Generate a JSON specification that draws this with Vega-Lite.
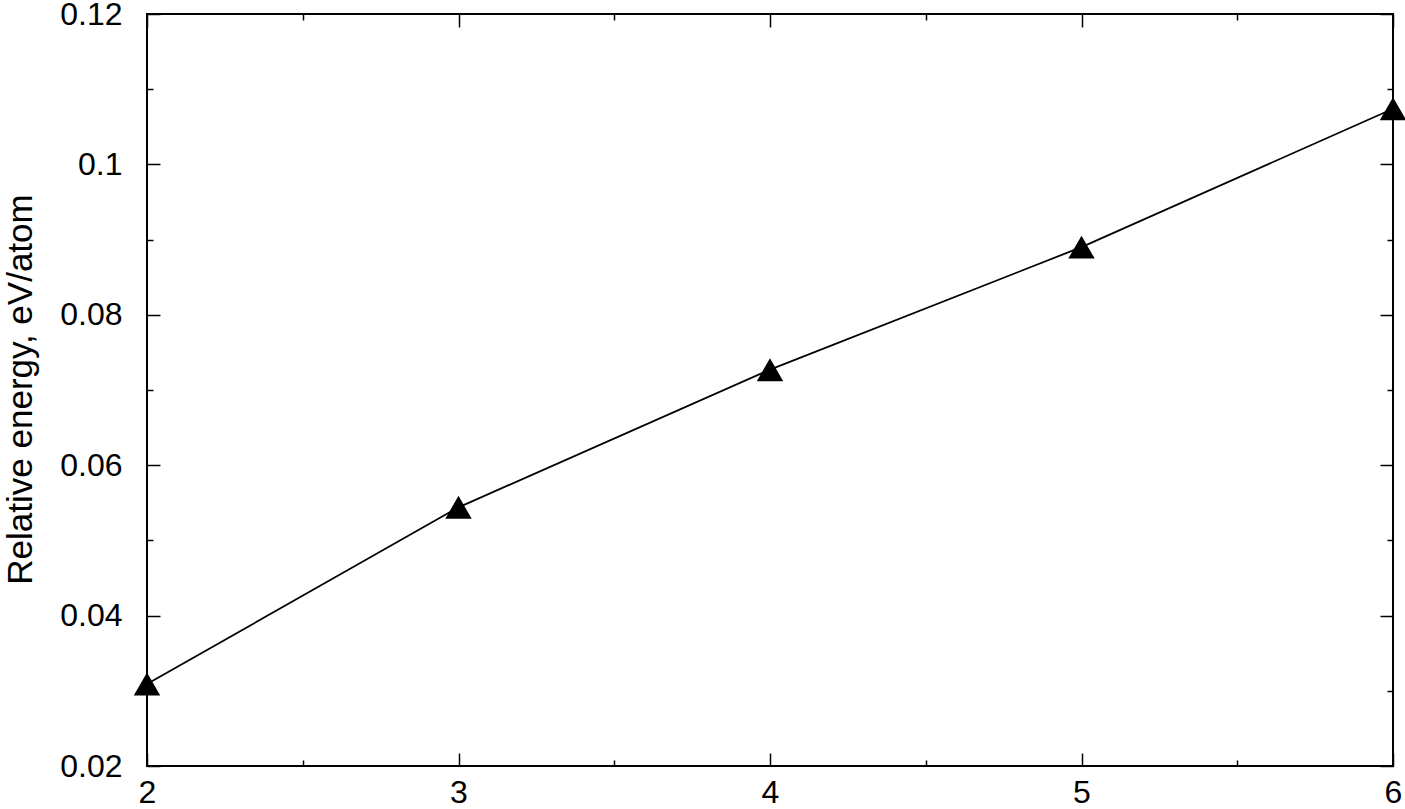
{
  "$schema": "https://vega.github.io/schema/vega-lite/v6.json",
  "width": 1246,
  "height": 752,
  "autosize": {"type": "none"},
  "padding": {"left": 147, "top": 14, "right": 12, "bottom": 43},
  "background": "white",
  "config": {
    "view": {"stroke": "black", "strokeWidth": 2},
    "axis": {
      "grid": false,
      "domain": false,
      "labelFont": "Liberation Sans",
      "labelFontSize": 32,
      "labelColor": "black",
      "tickColor": "black",
      "tickWidth": 1.5,
      "titleFont": "Liberation Sans",
      "titleFontWeight": "normal",
      "titleColor": "black"
    }
  },
  "data": {
    "values": [
      {"n": 2, "energy": 0.0309},
      {"n": 3, "energy": 0.0544},
      {"n": 4, "energy": 0.0727},
      {"n": 5, "energy": 0.0890},
      {"n": 6, "energy": 0.1074}
    ]
  },
  "resolve": {"axis": {"x": "independent", "y": "independent"}},
  "layer": [
    {
      "mark": {"type": "line", "color": "black", "strokeWidth": 1.8},
      "encoding": {
        "x": {
          "field": "n", "type": "quantitative",
          "scale": {"domain": [2, 6], "nice": false, "zero": false},
          "axis": {
            "orient": "bottom", "values": [2, 3, 4, 5, 6], "format": "d",
            "tickSize": -13, "labelPadding": 49, "labelBaseline": "alphabetic",
            "labelFlush": false, "title": null
          }
        },
        "y": {
          "field": "energy", "type": "quantitative",
          "scale": {"domain": [0.02, 0.12], "nice": false, "zero": false},
          "axis": {
            "orient": "left", "values": [0.02, 0.04, 0.06, 0.08, 0.1, 0.12], "format": ".2~f",
            "tickSize": -13, "labelPadding": 38, "labelFlush": false,
            "title": "Relative energy, eV/atom", "titleFontSize": 35,
            "titleAngle": -90, "titleBaseline": "alphabetic", "titleAlign": "center",
            "titleX": -116, "titleY": 375
          }
        }
      }
    },
    {
      "mark": {"type": "point", "shape": "triangle-up", "filled": true, "color": "black", "opacity": 1, "size": 700},
      "encoding": {
        "x": {
          "field": "n", "type": "quantitative",
          "axis": {"orient": "top", "values": [2, 3, 4, 5, 6], "labels": false, "tickSize": -13, "title": null}
        },
        "y": {
          "field": "energy", "type": "quantitative",
          "axis": {"orient": "right", "values": [0.02, 0.04, 0.06, 0.08, 0.1, 0.12], "labels": false, "tickSize": -13, "title": null}
        }
      }
    },
    {
      "mark": {"type": "point", "opacity": 0},
      "encoding": {
        "x": {
          "field": "n", "type": "quantitative",
          "axis": {"orient": "bottom", "values": [2.5, 3.5, 4.5, 5.5], "labels": false, "tickSize": -6, "title": null}
        },
        "y": {
          "field": "energy", "type": "quantitative",
          "axis": {"orient": "left", "values": [0.03, 0.05, 0.07, 0.09, 0.11], "labels": false, "tickSize": -6, "title": null}
        }
      }
    },
    {
      "mark": {"type": "point", "opacity": 0},
      "encoding": {
        "x": {
          "field": "n", "type": "quantitative",
          "axis": {"orient": "top", "values": [2.5, 3.5, 4.5, 5.5], "labels": false, "tickSize": -6, "title": null}
        },
        "y": {
          "field": "energy", "type": "quantitative",
          "axis": {"orient": "right", "values": [0.03, 0.05, 0.07, 0.09, 0.11], "labels": false, "tickSize": -6, "title": null}
        }
      }
    }
  ]
}
